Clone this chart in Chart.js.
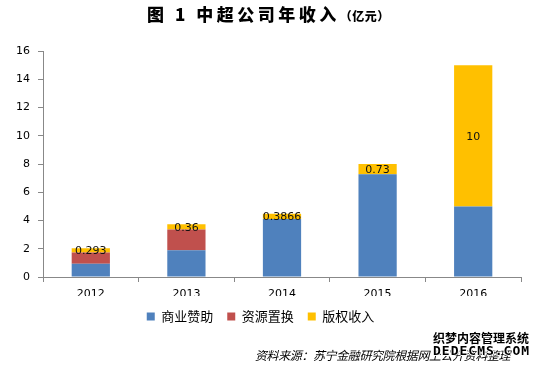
<!DOCTYPE html>
<html>
<head>
<meta charset="utf-8">
<script src="https://cdn.jsdelivr.net/npm/chart.js@4/dist/chart.umd.min.js"></script>
<style>
  body { margin: 0; background: #fff; }
  #wrap { position: relative; width: 542px; height: 365px; overflow: hidden; }
  #title { position: absolute; left: 147px; top: 1px; white-space: nowrap;
    font-family: "Noto Sans CJK SC"; font-weight: 900; font-size: 17px; letter-spacing: 3.5px; color: #000; }
  #title small { font-size: 12px; letter-spacing: 0.5px; }
  #source { position: absolute; left: 255px; top: 346px; font-family: "Noto Sans CJK SC";
    font-style: italic; font-size: 12px; letter-spacing: -0.4px; color: #000; white-space: nowrap; }
  .mark { position: absolute; left: 433px; font-weight: bold; color: #000; white-space: nowrap;
    text-shadow: 1px 0 #fff, -1px 0 #fff, 0 1px #fff, 0 -1px #fff; }
  #mark1 { top: 329px; font-family: "Noto Sans CJK SC"; font-size: 12px; }
  #mark2 { top: 343px; font-family: "DejaVu Sans Mono"; font-size: 13px; letter-spacing: 1px; }
</style>
</head>
<body>
<div id="wrap">
  <canvas id="revenueChart" width="542" height="365"></canvas>
  <div id="title">图 1 中超公司年收入<small>（亿元）</small></div>
  <div id="source">资料来源：苏宁金融研究院根据网上公开资料整理</div>
  <div class="mark" id="mark1">织梦内容管理系统</div>
  <div class="mark" id="mark2">DEDECMS.COM</div>
</div>
<script>
const years = ["2012", "2013", "2014", "2015", "2016"];
const sponsorship = [0.93, 1.9, 4.1, 7.27, 5];
const resourceSwap = [0.81, 1.47, 0, 0, 0];
const copyright = [0.293, 0.36, 0.3866, 0.73, 10];
const seriesNames = ["商业赞助", "资源置换", "版权收入"];

const segmentLabels = {
  id: "segmentLabels",
  afterDatasetsDraw(chart) {
    const ctx = chart.ctx;
    const meta = chart.getDatasetMeta(2);
    ctx.save();
    ctx.font = '11px "DejaVu Sans"';
    ctx.fillStyle = "#111";
    ctx.textAlign = "center";
    ctx.textBaseline = "middle";
    meta.data.forEach((bar, i) => {
      ctx.fillText(String(copyright[i]), bar.x, (bar.y + bar.base) / 2 + 1);
    });
    ctx.restore();
  }
};

const tickFont = { family: "DejaVu Sans", size: 11 };

new Chart(document.getElementById("revenueChart"), {
  type: "bar",
  data: {
    labels: years,
    datasets: [
      { label: seriesNames[0], data: sponsorship, backgroundColor: "#4F81BD" },
      { label: seriesNames[1], data: resourceSwap, backgroundColor: "#C0504D" },
      { label: seriesNames[2], data: copyright, backgroundColor: "#FFC000" }
    ]
  },
  options: {
    responsive: false,
    animation: false,
    categoryPercentage: 1,
    barPercentage: 0.4,
    layout: { padding: { top: 51, right: 21, bottom: 32, left: 0 } },
    plugins: {
      legend: {
        position: "bottom",
        labels: {
          boxWidth: 8,
          boxHeight: 8,
          padding: 14,
          color: "#000",
          font: { family: "Noto Sans CJK SC", size: 13 }
        }
      },
      tooltip: { enabled: false }
    },
    scales: {
      x: {
        stacked: true,
        grid: { drawOnChartArea: false, color: "#888", tickLength: 5, offset: true },
        border: { color: "#888" },
        ticks: { color: "#000", font: tickFont, padding: 6 },
        afterFit(scale) { scale.height = 19; }
      },
      y: {
        stacked: true,
        min: 0,
        max: 16,
        grid: { drawOnChartArea: false, color: "#888", tickLength: 5 },
        border: { color: "#888" },
        ticks: { stepSize: 2, color: "#000", font: tickFont, padding: 8 },
        afterFit(scale) { scale.width = 43; }
      }
    }
  },
  plugins: [segmentLabels]
});
</script>
</body>
</html>
